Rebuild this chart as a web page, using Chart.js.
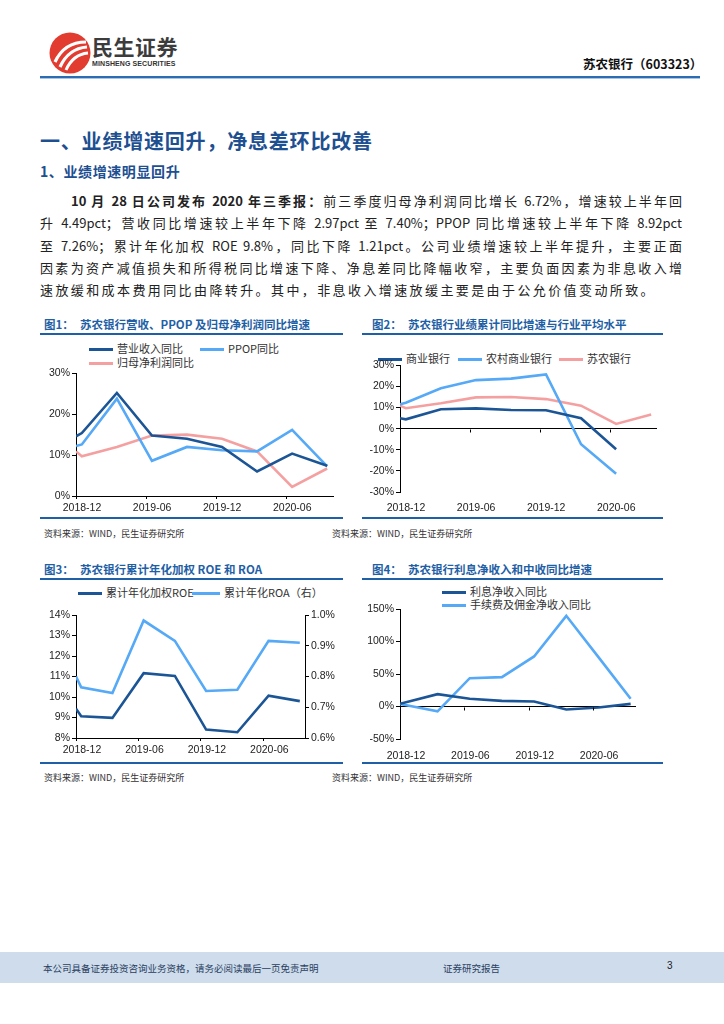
<!DOCTYPE html>
<html>
<head>
<meta charset="utf-8">
<script src="https://cdn.jsdelivr.net/npm/chart.js@4.4.1/dist/chart.umd.min.js"></script>
<style>
  body { margin: 0; width: 724px; height: 1024px; background: #fff; position: relative; overflow: hidden;
         font-family: "Noto Sans CJK SC", "Liberation Sans", sans-serif; color: #222; }
  .abs { position: absolute; }
  .h1 { left: 40px; top: 126px; font-size: 20px; font-weight: 700; color: #1d4f91; letter-spacing: 0.8px; }
  .h2 { left: 40px; top: 161px; font-size: 14px; font-weight: 700; color: #1d4f91; letter-spacing: 0.6px; }
  .para { left: 40px; width: 642px; font-size: 13px; white-space: nowrap; line-height: 18px; }
  .para.j { text-align: justify; text-align-last: justify; }
  .ct { font-size: 11.5px; font-weight: 700; color: #1f5fa6; white-space: nowrap; }
  .ct span { display: inline-block; width: 36px; }
  .bar { height: 2px; background: #1f5fa6; }
  .thin { height: 1.5px; background: #1f5fa6; }
  .src { font-size: 9px; color: #333; }
  .lg { font-size: 11px; color: #333; white-space: nowrap; line-height: 14px; }
  .lg i { display: inline-block; width: 24px; height: 3px; vertical-align: middle; margin-right: 4px; position: relative; top: -1px; }
  canvas { position: absolute; }
</style>
</head>
<body>
<script>
// x values are months after 2018-12 (report dates), ticks every half year
const xTickMonths = [0, 6, 12, 18];
const xTickLabels = ["2018-12", "2019-06", "2019-12", "2020-06"];
const months = [0, 0.5, 3.5, 6.5, 9.5, 12.5, 15.5, 18.5, 21.5];
const monthsShort = [0, 3.5, 6.5, 9.5, 12.5, 15.5, 18.5, 21.5];

// fig 1 (%)
const revenueYoY = [14.6, 15.4, 25.2, 14.8, 14.0, 12.0, 6.0, 10.37, 7.40];
const ppopYoY = [12.2, 12.6, 23.8, 8.6, 12.0, 11.2, 10.9, 16.18, 7.26];
const netProfitYoY = [10.9, 9.7, 12.0, 14.8, 15.0, 14.0, 10.9, 2.23, 6.72];

// fig 2 (%)
const commercialBanks = [4.9, 4.4, 9.2, 9.6, 8.8, 8.7, 4.9, -9.8];
const ruralBanks = [11.5, 12.3, 19.1, 23.0, 23.7, 25.7, -7.4, -21.3];

// fig 3 (%)
const roe = [9.43, 9.06, 8.98, 11.16, 11.03, 8.41, 8.28, 10.06, 9.80];
const roa = [0.80, 0.765, 0.746, 0.982, 0.916, 0.753, 0.757, 0.916, 0.91];

// fig 4 (%)
const netInterestYoY = [4.1, 19.0, 11.8, 8.7, 7.7, -4.5, -1.5, 4.1];
const feeIncomeYoY = [4.0, -7.5, 43.6, 45.2, 77.0, 139.5, 76.0, 11.8];

const DARK = "#1b5596", LIGHT = "#55a9f6", PINK = "#f5a0a0";
</script>

<!-- header -->
<svg class="abs" style="left:49px;top:32px" width="42" height="42" viewBox="0 0 42 42">
  <circle cx="21" cy="21" r="20.5" fill="#e23b30"/>
  <path d="M6 30 C12 17 22 10 37 10" stroke="#fff" stroke-width="3.2" fill="none"/>
  <path d="M11 35 C16 24 25 16 38 15" stroke="#fff" stroke-width="3.2" fill="none"/>
  <path d="M17 38 C21 29 28 22 39 21" stroke="#fff" stroke-width="3" fill="none"/>
</svg>
<div class="abs" style="left:92px;top:31px;font-size:21px;font-weight:700;color:#3c3c3c;letter-spacing:0.5px">民生证券</div>
<div class="abs" style="left:92px;top:60px;font-size:7px;font-weight:700;color:#333;font-family:'Liberation Sans';letter-spacing:0.1px">MINSHENG SECURITIES</div>
<div class="abs" style="left:583px;top:54px;font-size:12.5px;font-weight:700;color:#111">苏农银行（603323）</div>
<div class="abs" style="left:40px;top:76px;width:660px;height:2px;background:#2c6cb2"></div>
<div class="abs" style="left:40px;top:78px;width:660px;height:1px;background:#a9c4e3"></div>

<div class="abs h1">一、业绩增速回升，净息差环比改善</div>
<div class="abs h2">1、业绩增速明显回升</div>

<div class="abs para j" style="top:192px;padding-left:31px;width:611px"><b>10 月 28 日公司发布 2020 年三季报：</b>前三季度归母净利润同比增长 6.72%，增速较上半年回</div>
<div class="abs para j" style="top:214px">升 4.49pct；营收同比增速较上半年下降 2.97pct 至 7.40%；PPOP 同比增速较上半年下降 8.92pct</div>
<div class="abs para j" style="top:237px">至 7.26%；累计年化加权 ROE 9.8%，同比下降 1.21pct。公司业绩增速较上半年提升，主要正面</div>
<div class="abs para j" style="top:259px">因素为资产减值损失和所得税同比增速下降、净息差同比降幅收窄，主要负面因素为非息收入增</div>
<div class="abs para" style="top:281px;letter-spacing:2.4px">速放缓和成本费用同比由降转升。其中，非息收入增速放缓主要是由于公允价值变动所致。</div>

<!-- fig 1 -->
<div class="abs ct" style="left:44px;top:316px"><span>图1：</span>苏农银行营收、PPOP 及归母净利润同比增速</div>
<div class="abs bar" style="left:40px;top:333px;width:303px"></div>
<div class="abs lg" style="left:89px;top:341px"><i style="background:#1b5596"></i>营业收入同比</div>
<div class="abs lg" style="left:200px;top:341px"><i style="background:#55a9f6"></i>PPOP同比</div>
<div class="abs lg" style="left:89px;top:355px"><i style="background:#f5a0a0"></i>归母净利润同比</div>
<canvas id="c1" style="left:40px;top:365px" width="300" height="152"></canvas>
<div class="abs thin" style="left:40px;top:517px;width:303px"></div>
<div class="abs src" style="left:44px;top:527px">资料来源：WIND，民生证券研究所</div>

<!-- fig 2 -->
<div class="abs ct" style="left:372px;top:316px"><span>图2：</span>苏农银行业绩累计同比增速与行业平均水平</div>
<div class="abs bar" style="left:362px;top:333px;width:301px"></div>
<div class="abs lg" style="left:378px;top:351px"><i style="background:#1b5596"></i>商业银行</div>
<div class="abs lg" style="left:458px;top:351px"><i style="background:#55a9f6"></i>农村商业银行</div>
<div class="abs lg" style="left:559px;top:351px"><i style="background:#f5a0a0"></i>苏农银行</div>
<canvas id="c2" style="left:360px;top:357px" width="320" height="160"></canvas>
<div class="abs thin" style="left:362px;top:517px;width:301px"></div>
<div class="abs src" style="left:332px;top:527px">资料来源：WIND，民生证券研究所</div>

<!-- fig 3 -->
<div class="abs ct" style="left:44px;top:561px"><span>图3：</span>苏农银行累计年化加权 ROE 和 ROA</div>
<div class="abs bar" style="left:40px;top:578px;width:303px"></div>
<div class="abs lg" style="left:78px;top:585px"><i style="background:#1b5596"></i>累计年化加权ROE</div>
<div class="abs lg" style="left:192px;top:585px"><i style="background:#55a9f6;width:28px"></i>累计年化ROA（右）</div>
<canvas id="c3" style="left:40px;top:605px" width="300" height="157"></canvas>
<div class="abs thin" style="left:40px;top:762px;width:303px"></div>
<div class="abs src" style="left:44px;top:771px">资料来源：WIND，民生证券研究所</div>

<!-- fig 4 -->
<div class="abs ct" style="left:372px;top:561px"><span>图4：</span>苏农银行利息净收入和中收同比增速</div>
<div class="abs bar" style="left:362px;top:578px;width:301px"></div>
<div class="abs lg" style="left:442px;top:584px"><i style="background:#1b5596"></i>利息净收入同比</div>
<div class="abs lg" style="left:442px;top:597px"><i style="background:#55a9f6"></i>手续费及佣金净收入同比</div>
<canvas id="c4" style="left:360px;top:600px" width="320" height="162"></canvas>
<div class="abs thin" style="left:362px;top:762px;width:301px"></div>
<div class="abs src" style="left:332px;top:771px">资料来源：WIND，民生证券研究所</div>

<!-- footer -->
<div class="abs" style="left:0;top:952px;width:724px;height:31px;background:#cedcec"></div>
<div class="abs" style="left:43px;top:961px;font-size:9.5px;color:#2a3f5f">本公司具备证券投资咨询业务资格，请务必阅读最后一页免责声明</div>
<div class="abs" style="left:443px;top:961px;font-size:9.5px;color:#2a3f5f">证券研究报告</div>
<div class="abs" style="left:667px;top:960px;font-size:10px;color:#222;font-family:'Liberation Sans'">3</div>

<script>
const tickFont = { family: "Liberation Sans", size: 10.5 };

// small tick marks under the zero line, for charts whose x axis sits at 0
const zeroTicks = {
    id: "zeroTicks",
    afterDatasetsDraw(chart) {
        const x = chart.scales.x, y = chart.scales.y, ctx = chart.ctx;
        const y0 = Math.round(y.getPixelForValue(0)) + 0.5;
        ctx.save();
        ctx.strokeStyle = "#000";
        ctx.lineWidth = 1;
        xTickMonths.forEach(m => {
            const px = Math.round(x.getPixelForValue(m)) + 0.5;
            ctx.beginPath();
            ctx.moveTo(px, y0);
            ctx.lineTo(px, y0 + 3);
            ctx.stroke();
        });
        ctx.restore();
    }
};

function series(label, xs, ys, color) {
    return {
        label: label,
        data: ys.map((v, i) => ({ x: xs[i], y: v })),
        borderColor: color,
        backgroundColor: color,
        borderWidth: 2.6,
        pointRadius: 0,
        tension: 0,
        fill: false
    };
}

function xAxis(h, pad, withTicks) {
    return {
        type: "linear",
        min: 0,
        max: 22,
        afterBuildTicks: s => { s.ticks = xTickMonths.map(v => ({ value: v })); },
        afterFit: s => { s.height = h; },
        border: { display: withTicks, color: "#000", width: 1 },
        grid: { display: withTicks, drawOnChartArea: false, tickLength: 3, color: "#000" },
        ticks: {
            font: tickFont, color: "#222", padding: pad, labelOffset: 6,
            maxRotation: 0, autoSkip: false,
            callback: (v, i) => xTickLabels[i]
        }
    };
}

function yAxis(min, max, step, w, fmt, zeroLine, pos) {
    return {
        position: pos || "left",
        min: min,
        max: max,
        afterFit: s => { s.width = w; },
        border: { display: true, color: "#000", width: 1 },
        grid: {
            drawOnChartArea: !!zeroLine,
            color: c => (zeroLine && c.tick && c.tick.value === 0) ? "#000" : "rgba(0,0,0,0)",
            tickColor: "#000",
            tickLength: 4
        },
        ticks: { stepSize: step, font: tickFont, color: "#222", padding: 2, callback: fmt }
    };
}

function baseOptions(scales, padTop, padRight) {
    return {
        responsive: false,
        animation: false,
        layout: { padding: { top: padTop, right: padRight, left: 0, bottom: 0 } },
        plugins: { legend: { display: false }, tooltip: { enabled: false } },
        scales: scales
    };
}

const pct0 = v => v + "%";

new Chart(document.getElementById("c1"), {
    type: "line",
    data: {
        datasets: [
            series("营业收入同比", months, revenueYoY, DARK),
            series("PPOP同比", months, ppopYoY, LIGHT),
            series("归母净利润同比", months, netProfitYoY, PINK)
        ]
    },
    options: baseOptions({
        x: xAxis(21, 3, true),
        y: yAxis(0, 30, 10, 36, pct0, false)
    }, 6, 7)
});

new Chart(document.getElementById("c2"), {
    type: "line",
    data: {
        datasets: [
            series("商业银行", months, commercialBanks, DARK),
            series("农村商业银行", months, ruralBanks, LIGHT),
            series("苏农银行", months, netProfitYoY, PINK)
        ]
    },
    options: baseOptions({
        x: xAxis(25, 7, false),
        y: yAxis(-30, 30, 10, 40, pct0, true)
    }, 8, 23),
    plugins: [zeroTicks]
});

new Chart(document.getElementById("c3"), {
    type: "line",
    data: {
        datasets: [
            Object.assign(series("累计年化加权ROE", months, roe, DARK), { yAxisID: "y" }),
            Object.assign(series("累计年化ROA（右）", months, roa, LIGHT), { yAxisID: "y1" })
        ]
    },
    options: baseOptions({
        x: xAxis(24, 3, true),
        y: yAxis(8, 14, 1, 36, pct0, false),
        y1: yAxis(0.6, 1.0, 0.1, 35, v => v.toFixed(1) + "%", false, "right")
    }, 10, 0)
});

new Chart(document.getElementById("c4"), {
    type: "line",
    data: {
        datasets: [
            series("利息净收入同比", monthsShort, netInterestYoY, DARK),
            series("手续费及佣金净收入同比", monthsShort, feeIncomeYoY, LIGHT)
        ]
    },
    options: baseOptions({
        x: xAxis(23, 8, false),
        y: yAxis(-50, 150, 50, 40, pct0, true)
    }, 9, 44),
    plugins: [zeroTicks]
});
</script>
</body>
</html>
